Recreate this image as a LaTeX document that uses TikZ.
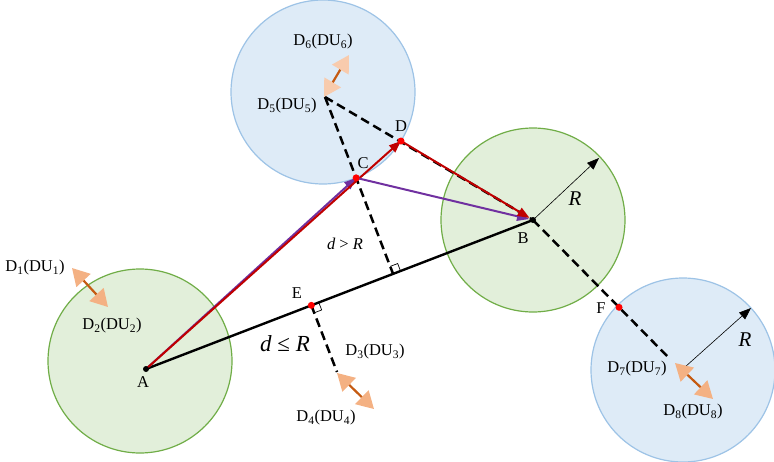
\documentclass[tikz,border=0pt]{standalone}
\usepackage{fontspec}
\setmainfont{Liberation Serif}
\usetikzlibrary{arrows.meta,calc}
\definecolor{gfill}{HTML}{E2EFDA}
\definecolor{gdraw}{HTML}{70AD47}
\definecolor{bfill}{HTML}{DEEBF7}
\definecolor{bdraw}{HTML}{9DC3E6}
\definecolor{myred}{HTML}{C00000}
\definecolor{mypurple}{HTML}{7030A0}
\definecolor{peach}{HTML}{F4B183}
\definecolor{peachl}{HTML}{F8CBAD}
\definecolor{shaft}{HTML}{C55A11}
\tikzset{
  gzone/.style={circle, draw=gdraw, fill=gfill, line width=1.2pt, minimum size=184pt, inner sep=0pt},
  bzone/.style={circle, draw=bdraw, fill=bfill, line width=1.2pt, minimum size=184pt, inner sep=0pt},
  abline/.style={black, line width=2.4pt},
  dline/.style={black, line width=2.5pt, dash pattern=on 9pt off 5pt},
  redarr/.style={myred, line width=2pt, -{Triangle[length=12pt,width=9pt]}},
  purarr/.style={mypurple, line width=2pt, -{Triangle[length=12pt,width=9pt]}},
  radarr/.style={black, line width=0.6pt, -{Triangle[length=12pt,width=9pt]}},
  dbl/.style={shaft, line width=2.2pt, {Triangle[length=17pt,width=19pt,color=#1]}-{Triangle[length=17pt,width=19pt,color=#1]}},
  bdot/.style={circle, fill=black, inner sep=0pt, minimum size=6pt},
  rdot/.style={circle, fill=red, inner sep=0pt, minimum size=7pt},
  lbl/.style={font=\fontsize{16.5}{18}\selectfont, inner sep=0pt},
  rmark/.style={black, line width=0.7pt},
}
\begin{document}
\begin{tikzpicture}[x=1pt,y=-1pt]
\useasboundingbox (0,0) rectangle (774,461);
% zones
\node[bzone] (Z56) at (323,92) {};
\node[gzone] (ZA) at (140,361) {};
\node[gzone] (ZB) at (533,220) {};
\node[bzone] (Z78) at (683,370) {};
% points
\coordinate (A) at (146,369);
\coordinate (B) at (533,220);
\coordinate (D5) at (325,97);
\coordinate (D) at (401,141);
\coordinate (D3) at (337,372);
\coordinate (D7) at (670,359);
\coordinate (P1) at ($(A)!(D5)!(B)$);
\coordinate (C) at ($(D5)!0.457!(P1)$);
\coordinate (E) at ($(A)!(D3)!(B)$);
\coordinate (F) at ($(B)!0.628!(D7)$);
\coordinate (RB) at (599,158);
\coordinate (R7s) at (685,367);
\coordinate (R7e) at (751,308);
% lines
\draw[abline] (A) -- (B);
\draw[dline] (D5) -- (P1);
\draw[dline] (D5) -- (B);
\draw[dline] (E) -- (D3);
\draw[dline] (B) -- (D7);
% right angle marks
\coordinate (r1) at ($(P1)!8pt!(B)$);
\coordinate (r2) at ($(P1)!8pt!(D5)$);
\draw[rmark] (r1) -- ($(r1)+(r2)-(P1)$) -- (r2);
\coordinate (e1) at ($(E)!8pt!(B)$);
\coordinate (e2) at ($(E)!8pt!(D3)$);
\draw[rmark] (e1) -- ($(e1)+(e2)-(E)$) -- (e2);
% radius arrows
\draw[radarr] (B) -- (RB);
\draw[radarr] (R7s) -- (R7e);
% route arrows
\draw[purarr] (A) -- (C);
\draw[redarr] (A) -- (D);
\draw[purarr] (C) -- ($(B)!4pt!(C)$);
\draw[redarr] (D) -- ($(B)!4pt!(D)$);
% double arrows
\coordinate (a1s) at (72,268); \coordinate (a1e) at (108,307);
\coordinate (a2s) at (349,55);  \coordinate (a2e) at (324,97);
\coordinate (a3s) at (337,373); \coordinate (a3e) at (374,409);
\coordinate (a4s) at (675,363); \coordinate (a4e) at (713,399);
\draw[dbl=peach] (a1s) -- (a1e);
\draw[dbl=peachl] (a2s) -- (a2e);
\draw[dbl=peach] (a3s) -- (a3e);
\draw[dbl=peach] (a4s) -- (a4e);
% dots
\node[bdot] (dA) at (A) {};
\node[bdot] (dB) at (B) {};
\node[rdot] (dC) at (C) {};
\node[rdot] (dD) at (D) {};
\node[rdot] (dE) at (E) {};
\node[rdot] (dF) at (F) {};
% labels
\node[lbl] (l6) at (323,42) {D\textsubscript{6}(DU\textsubscript{6})};
\node[lbl] (l5) at (287,106) {D\textsubscript{5}(DU\textsubscript{5})};
\node[lbl] (l1) at (35,268) {D\textsubscript{1}(DU\textsubscript{1})};
\node[lbl] (l2) at (112,326) {D\textsubscript{2}(DU\textsubscript{2})};
\node[lbl] (l3) at (375,352) {D\textsubscript{3}(DU\textsubscript{3})};
\node[lbl] (l4) at (326,418) {D\textsubscript{4}(DU\textsubscript{4})};
\node[lbl] (l7) at (637,369) {D\textsubscript{7}(DU\textsubscript{7})};
\node[lbl] (l8) at (693,412) {D\textsubscript{8}(DU\textsubscript{8})};
\node[lbl] (lD) at (401,126) {D};
\node[lbl] (lC) at (363,163) {C};
\node[lbl] (lA) at (143,382) {A};
\node[lbl] (lE) at (297,293) {E};
\node[lbl] (lB) at (523,238) {B};
\node[lbl] (lF) at (601,308) {F};
\node[lbl, font=\fontsize{21}{23}\selectfont] (lR1) at (575,199) {\textit{R}};
\node[lbl, font=\fontsize{21}{23}\selectfont] (lR2) at (745,340) {\textit{R}};
\node[lbl, font=\fontsize{23}{25}\selectfont] (lle) at (285,344) {\textit{d} ≤ \textit{R}};
\node[lbl, font=\fontsize{16.5}{18}\selectfont] (lgt) at (345,244) {\textit{d} > \textit{R}};
\end{tikzpicture}
\end{document}
